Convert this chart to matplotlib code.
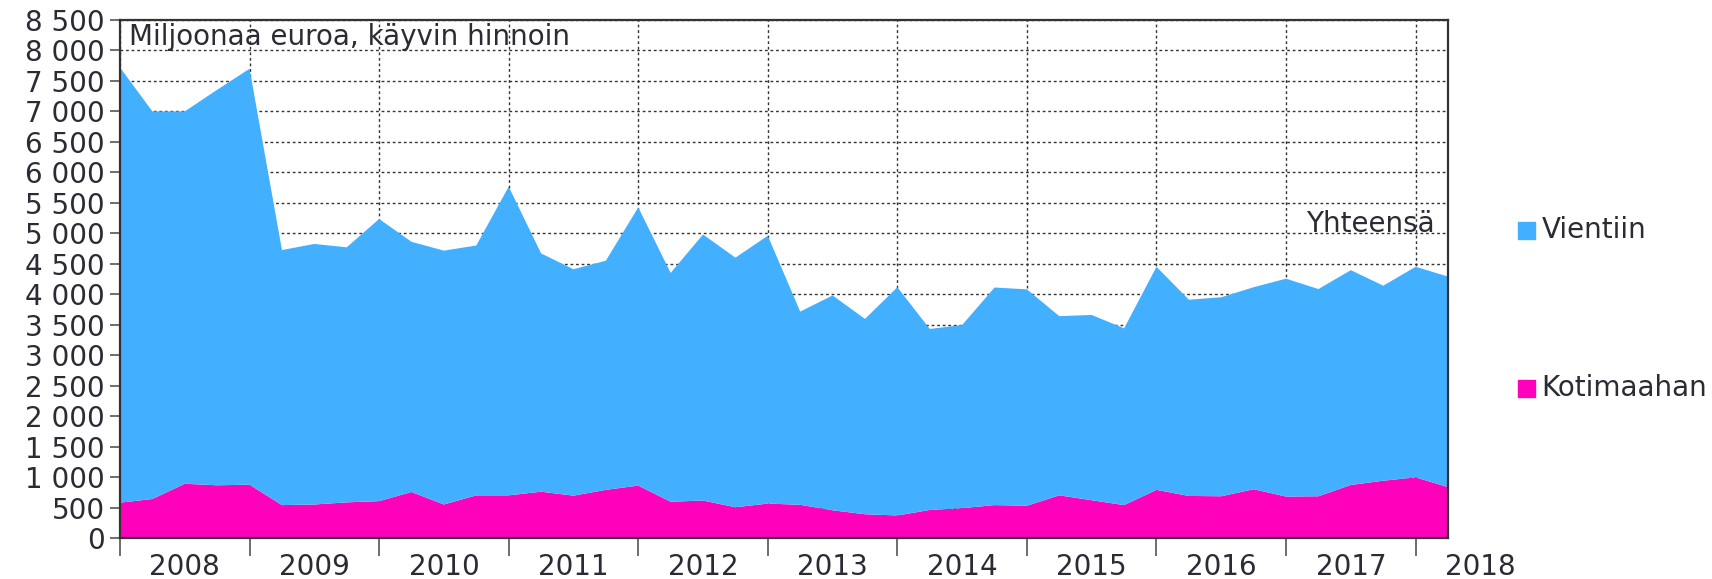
import matplotlib
matplotlib.use("Agg")
import matplotlib.pyplot as plt
from matplotlib.patches import Rectangle
import numpy as np

# Quarterly values 2008 Q1 - 2018 Q2, million euros
kotimaahan = [580, 640, 890, 865, 875, 540, 550, 585, 605, 755, 550, 700,
              700, 760, 695, 790, 860, 595, 615, 505, 565, 545, 455, 390,
              370, 460, 490, 540, 530, 700, 620, 540, 790, 690, 685, 800,
              680, 685, 870, 940, 995, 835]
vientiin = [7140, 6360, 6110, 6490, 6825, 4185, 4275, 4185, 4630, 4105, 4165, 4100,
            5065, 3910, 3715, 3760, 4565, 3755, 4365, 4095, 4395, 3170, 3525, 3205,
            3745, 2970, 3005, 3570, 3550, 2940, 3040, 2900, 3660, 3220, 3265, 3315,
            3575, 3400, 3525, 3200, 3455, 3455]
years = ["2008", "2009", "2010", "2011", "2012", "2013", "2014", "2015",
         "2016", "2017", "2018"]

text_col = "#2b2b35"
blue = "#42afff"
pink = "#ff00bb"
fs = 20

plt.rcParams['font.family'] = ['DejaVu Sans']

fig = plt.figure(figsize=(17.12, 5.79), dpi=100)
ax = fig.add_axes([0.0701, 0.0708, 0.7757, 0.8947])

x = np.arange(len(kotimaahan))
ax.stackplot(x, kotimaahan, vientiin, colors=[pink, blue], linewidth=0, zorder=2)

ax.set_xlim(0, len(x) - 1)
ax.set_ylim(0, 8500)

# y axis
yt = np.arange(0, 8501, 500)
ax.set_yticks(yt)
ax.set_yticklabels([f"{v:,}".replace(",", " ") for v in yt])
ax.tick_params(axis='y', direction='out', length=7, width=1.2, color="#555555",
               labelsize=fs, labelcolor=text_col, pad=4)

# x axis: ticks at year boundaries, labels in the middle of each year
ax.set_xticks(np.arange(0, len(x), 4))
ax.set_xticklabels([])
ax.tick_params(axis='x', direction='out', length=13, width=1.2, color="#555555")
for i, y in enumerate(years):
    ax.text(2 + 4 * i, -0.072, y, transform=ax.get_xaxis_transform(),
            ha='center', va='baseline', fontsize=fs, color=text_col, clip_on=False)

ax.grid(True, linestyle=(0, (2, 2)), color="#333333", linewidth=1.0, zorder=0)
ax.set_axisbelow(True)

for s in ax.spines.values():
    s.set_color("#333333")
    s.set_linewidth(1.6)
    s.set_zorder(3)

ax.text(0.007, 0.995, "Miljoonaa euroa, käyvin hinnoin", transform=ax.transAxes,
        ha='left', va='top', fontsize=fs, color=text_col)
ax.text(40.6, 5150, "Yhteensä", ha='right', va='center', fontsize=fs,
        color=text_col, zorder=4)

# legend on the right
for label, col, yy in [("Vientiin", blue, 0.603), ("Kotimaahan", pink, 0.330)]:
    fig.add_artist(Rectangle((0.8866, yy - 0.015), 0.0099, 0.029,
                             transform=fig.transFigure, color=col))
    fig.text(0.9005, yy, label, ha='left', va='center', fontsize=fs, color=text_col)

fig.savefig("out.png", dpi=100)
